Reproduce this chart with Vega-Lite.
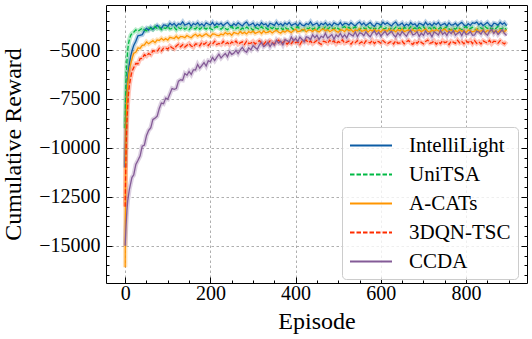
{
"$schema": "https://vega.github.io/schema/vega-lite/v6.json",
"width": 421, "height": 278,
"autosize": "none",
"padding": {"left": 106, "top": 5, "right": 5, "bottom": 56},
"background": "white",
"config": {
 "view": {"stroke": "black", "strokeWidth": 1},
 "axis": {"domain": false, "labelFont": "Liberation Serif", "labelFontSize": 20, "labelColor": "black", "titleFont": "Liberation Serif", "titleFontSize": 24, "titleFontWeight": "normal", "titleColor": "black", "tickColor": "black", "tickWidth": 1, "gridColor": "#9a9a9a", "gridDash": [2.5, 2.5], "gridWidth": 0.8, "labelOverlap": false, "labelFlush": false, "labelBound": false},
 "legend": {"orient": "none", "legendX": 236, "legendY": 122, "title": null,
   "symbolType": "M-1,0H3", "symbolSize": 441, "symbolStrokeWidth": 2, "symbolOpacity": 1,
   "labelFont": "Liberation Serif", "labelFontSize": 21, "labelColor": "black", "labelOffset": 37, "labelLimit": 0,
   "rowPadding": 7, "padding": 7, "fillColor": "rgba(255,255,255,0.8)", "strokeColor": "#cccccc", "cornerRadius": 4}
},
"data": {"values": [
{"e":0,"I":-11000,"U":-9000,"A":-16100,"D":-13000,"C":-15000},
{"e":1,"I":-9500,"U":-7500,"A":-11000,"D":-11500,"C":-14500},
{"e":2,"I":-8300,"U":-6500,"A":-9000,"D":-10300,"C":-14000},
{"e":3,"I":-7500,"U":-6000,"A":-8000,"D":-9400,"C":-13600},
{"e":4,"I":-7000,"U":-5600,"A":-7300,"D":-8700,"C":-13200},
{"e":6,"I":-6400,"U":-5000,"A":-6700,"D":-7800,"C":-12700},
{"e":8,"I":-6000,"U":-4650,"A":-6300,"D":-7200,"C":-12400},
{"e":10,"I":-5700,"U":-4450,"A":-6000,"D":-6800,"C":-12100},
{"e":13,"I":-5300,"U":-4250,"A":-5700,"D":-6400,"C":-11800},
{"e":16,"I":-5050,"U":-4150,"A":-5450,"D":-6100,"C":-11500},
{"e":20,"I":-4770,"U":-4094,"A":-5170,"D":-5900,"C":-11385},
{"e":25,"I":-4550,"U":-3972,"A":-5108,"D":-5690,"C":-10845},
{"e":30,"I":-4270,"U":-4046,"A":-4894,"D":-5700,"C":-10635},
{"e":35,"I":-4250,"U":-3967,"A":-4914,"D":-5440,"C":-10410},
{"e":40,"I":-4220,"U":-3888,"A":-4756,"D":-5430,"C":-9915},
{"e":45,"I":-4020,"U":-3977,"A":-4746,"D":-5240,"C":-9855},
{"e":50,"I":-3890,"U":-4018,"A":-4584,"D":-5310,"C":-9375},
{"e":55,"I":-3980,"U":-3880,"A":-4680,"D":-5180,"C":-9105},
{"e":60,"I":-3840,"U":-3894,"A":-4600,"D":-5240,"C":-8975},
{"e":65,"I":-3940,"U":-3948,"A":-4522,"D":-5040,"C":-8550},
{"e":70,"I":-3840,"U":-3810,"A":-4620,"D":-5060,"C":-8480},
{"e":75,"I":-3735,"U":-3898,"A":-4483,"D":-5075,"C":-8385},
{"e":80,"I":-3840,"U":-3834,"A":-4514,"D":-4910,"C":-7990},
{"e":85,"I":-3895,"U":-3954,"A":-4406,"D":-5045,"C":-7705},
{"e":90,"I":-3720,"U":-3866,"A":-4498,"D":-4900,"C":-7745},
{"e":95,"I":-3735,"U":-3906,"A":-4419,"D":-4895,"C":-7460},
{"e":100,"I":-3800,"U":-3794,"A":-4492,"D":-4950,"C":-7505},
{"e":105,"I":-3630,"U":-3930,"A":-4349,"D":-4802,"C":-7235},
{"e":110,"I":-3730,"U":-3890,"A":-4382,"D":-4885,"C":-6965},
{"e":115,"I":-3640,"U":-3842,"A":-4412,"D":-4940,"C":-7010},
{"e":120,"I":-3780,"U":-3970,"A":-4298,"D":-4795,"C":-6965},
{"e":125,"I":-3660,"U":-3858,"A":-4416,"D":-4710,"C":-6595},
{"e":130,"I":-3700,"U":-3914,"A":-4310,"D":-4835,"C":-6520},
{"e":135,"I":-3560,"U":-3826,"A":-4316,"D":-4732,"C":-6540},
{"e":140,"I":-3730,"U":-3938,"A":-4370,"D":-4850,"C":-6200},
{"e":145,"I":-3680,"U":-3874,"A":-4256,"D":-4760,"C":-6285},
{"e":150,"I":-3620,"U":-3962,"A":-4326,"D":-4670,"C":-6095},
{"e":155,"I":-3780,"U":-3834,"A":-4372,"D":-4792,"C":-6250},
{"e":160,"I":-3640,"U":-3882,"A":-4258,"D":-4854,"C":-6015},
{"e":165,"I":-3710,"U":-3922,"A":-4194,"D":-4686,"C":-6020},
{"e":170,"I":-3600,"U":-3818,"A":-4297,"D":-4708,"C":-5740},
{"e":175,"I":-3740,"U":-3946,"A":-4216,"D":-4780,"C":-5925},
{"e":180,"I":-3660,"U":-3850,"A":-4311,"D":-4612,"C":-5790},
{"e":185,"I":-3770,"U":-3866,"A":-4238,"D":-4714,"C":-5640},
{"e":190,"I":-3610,"U":-3930,"A":-4166,"D":-4626,"C":-5820},
{"e":195,"I":-3670,"U":-3826,"A":-4261,"D":-4768,"C":-5550},
{"e":200,"I":-3720,"U":-3906,"A":-4308,"D":-4650,"C":-5595},
{"e":205,"I":-3590,"U":-3962,"A":-4173,"D":-4696,"C":-5380},
{"e":210,"I":-3750,"U":-3858,"A":-4190,"D":-4552,"C":-5540},
{"e":215,"I":-3630,"U":-3802,"A":-4247,"D":-4718,"C":-5370},
{"e":220,"I":-3710,"U":-3866,"A":-4272,"D":-4664,"C":-5215},
{"e":225,"I":-3630,"U":-3938,"A":-4177,"D":-4720,"C":-5405},
{"e":230,"I":-3760,"U":-3834,"A":-4234,"D":-4556,"C":-5285},
{"e":235,"I":-3660,"U":-3898,"A":-4107,"D":-4692,"C":-5180},
{"e":240,"I":-3590,"U":-3962,"A":-4188,"D":-4618,"C":-5345},
{"e":245,"I":-3720,"U":-3858,"A":-4141,"D":-4724,"C":-5075},
{"e":250,"I":-3790,"U":-3802,"A":-4246,"D":-4580,"C":-5225},
{"e":255,"I":-3650,"U":-3930,"A":-4105,"D":-4657,"C":-5165},
{"e":260,"I":-3740,"U":-3906,"A":-4140,"D":-4544,"C":-5015},
{"e":265,"I":-3610,"U":-3842,"A":-4183,"D":-4701,"C":-5180},
{"e":270,"I":-3690,"U":-3970,"A":-4050,"D":-4638,"C":-5000},
{"e":275,"I":-3770,"U":-3882,"A":-4157,"D":-4585,"C":-4865},
{"e":280,"I":-3640,"U":-3946,"A":-4096,"D":-4712,"C":-5035},
{"e":285,"I":-3570,"U":-3826,"A":-4179,"D":-4549,"C":-5115},
{"e":290,"I":-3730,"U":-3914,"A":-4062,"D":-4666,"C":-4885},
{"e":295,"I":-3700,"U":-3874,"A":-4121,"D":-4643,"C":-4995},
{"e":300,"I":-3620,"U":-3986,"A":-4028,"D":-4560,"C":-4775},
{"e":305,"I":-3780,"U":-3850,"A":-4152,"D":-4689,"C":-4870},
{"e":310,"I":-3670,"U":-3890,"A":-4100,"D":-4588,"C":-4965},
{"e":315,"I":-3750,"U":-3938,"A":-4056,"D":-4517,"C":-4740},
{"e":320,"I":-3600,"U":-3810,"A":-4156,"D":-4646,"C":-4610},
{"e":325,"I":-3710,"U":-3922,"A":-4024,"D":-4715,"C":-4825},
{"e":330,"I":-3660,"U":-3866,"A":-4116,"D":-4574,"C":-4750},
{"e":335,"I":-3800,"U":-3954,"A":-4096,"D":-4663,"C":-4610},
{"e":340,"I":-3630,"U":-3842,"A":-4028,"D":-4532,"C":-4830},
{"e":345,"I":-3680,"U":-3906,"A":-4128,"D":-4611,"C":-4645},
{"e":350,"I":-3740,"U":-3818,"A":-4044,"D":-4690,"C":-4745},
{"e":355,"I":-3580,"U":-3946,"A":-3985,"D":-4560,"C":-4500},
{"e":360,"I":-3720,"U":-3898,"A":-4086,"D":-4490,"C":-4645},
{"e":365,"I":-3650,"U":-3858,"A":-4139,"D":-4650,"C":-4550},
{"e":370,"I":-3760,"U":-3962,"A":-4024,"D":-4620,"C":-4740},
{"e":375,"I":-3620,"U":-3834,"A":-4093,"D":-4540,"C":-4465},
{"e":380,"I":-3700,"U":-3930,"A":-3986,"D":-4700,"C":-4520},
{"e":385,"I":-3590,"U":-3914,"A":-4047,"D":-4590,"C":-4590},
{"e":390,"I":-3750,"U":-3850,"A":-4108,"D":-4670,"C":-4330},
{"e":395,"I":-3690,"U":-3954,"A":-4001,"D":-4520,"C":-4525},
{"e":400,"I":-3640,"U":-3874,"A":-3942,"D":-4630,"C":-4405},
{"e":405,"I":-3770,"U":-3818,"A":-4068,"D":-4580,"C":-4560},
{"e":410,"I":-3610,"U":-3922,"A":-4042,"D":-4720,"C":-4340},
{"e":415,"I":-3730,"U":-3978,"A":-3976,"D":-4550,"C":-4450},
{"e":420,"I":-3760,"U":-3970,"A":-3950,"D":-4560,"C":-4575},
{"e":425,"I":-3650,"U":-3858,"A":-4076,"D":-4490,"C":-4325},
{"e":430,"I":-3700,"U":-3914,"A":-3978,"D":-4630,"C":-4360},
{"e":435,"I":-3560,"U":-3826,"A":-3992,"D":-4540,"C":-4470},
{"e":440,"I":-3730,"U":-3938,"A":-4054,"D":-4670,"C":-4220},
{"e":445,"I":-3680,"U":-3874,"A":-3948,"D":-4590,"C":-4375},
{"e":450,"I":-3620,"U":-3962,"A":-4026,"D":-4510,"C":-4245},
{"e":455,"I":-3780,"U":-3834,"A":-4077,"D":-4640,"C":-4463},
{"e":460,"I":-3640,"U":-3882,"A":-3973,"D":-4710,"C":-4291},
{"e":465,"I":-3710,"U":-3922,"A":-3917,"D":-4550,"C":-4359},
{"e":470,"I":-3600,"U":-3818,"A":-4029,"D":-4580,"C":-4142},
{"e":475,"I":-3740,"U":-3946,"A":-3957,"D":-4660,"C":-4390},
{"e":480,"I":-3660,"U":-3850,"A":-4061,"D":-4500,"C":-4308},
{"e":485,"I":-3770,"U":-3866,"A":-3997,"D":-4610,"C":-4211},
{"e":490,"I":-3610,"U":-3930,"A":-3933,"D":-4530,"C":-4444},
{"e":495,"I":-3670,"U":-3826,"A":-4037,"D":-4680,"C":-4227},
{"e":500,"I":-3720,"U":-3906,"A":-4093,"D":-4570,"C":-4325},
{"e":505,"I":-3590,"U":-3962,"A":-3965,"D":-4620,"C":-4152},
{"e":510,"I":-3750,"U":-3858,"A":-3989,"D":-4480,"C":-4354},
{"e":515,"I":-3630,"U":-3802,"A":-4053,"D":-4650,"C":-4226},
{"e":520,"I":-3650,"U":-3914,"A":-3925,"D":-4600,"C":-4383},
{"e":525,"I":-3730,"U":-3842,"A":-4013,"D":-4540,"C":-4135},
{"e":530,"I":-3600,"U":-3946,"A":-3949,"D":-4700,"C":-4217},
{"e":535,"I":-3700,"U":-3882,"A":-4069,"D":-4560,"C":-4284},
{"e":540,"I":-3770,"U":-3818,"A":-3981,"D":-4630,"C":-4081},
{"e":545,"I":-3640,"U":-3922,"A":-4021,"D":-4520,"C":-4313},
{"e":550,"I":-3570,"U":-3978,"A":-3909,"D":-4660,"C":-4125},
{"e":555,"I":-3710,"U":-3850,"A":-4045,"D":-4580,"C":-4153},
{"e":560,"I":-3620,"U":-3874,"A":-4005,"D":-4690,"C":-4271},
{"e":565,"I":-3750,"U":-3938,"A":-3957,"D":-4530,"C":-4074},
{"e":570,"I":-3670,"U":-3810,"A":-4085,"D":-4590,"C":-4222},
{"e":575,"I":-3590,"U":-3898,"A":-3973,"D":-4640,"C":-4325},
{"e":580,"I":-3720,"U":-3834,"A":-4029,"D":-4510,"C":-4128},
{"e":585,"I":-3790,"U":-3954,"A":-3941,"D":-4670,"C":-4021},
{"e":590,"I":-3630,"U":-3866,"A":-4053,"D":-4550,"C":-4229},
{"e":595,"I":-3660,"U":-3906,"A":-3989,"D":-4570,"C":-4092},
{"e":600,"I":-3740,"U":-3794,"A":-4077,"D":-4650,"C":-4285},
{"e":605,"I":-3580,"U":-3930,"A":-3949,"D":-4520,"C":-4164},
{"e":610,"I":-3690,"U":-3890,"A":-3997,"D":-4620,"C":-4042},
{"e":615,"I":-3610,"U":-3842,"A":-4037,"D":-4690,"C":-4236},
{"e":620,"I":-3690,"U":-3970,"A":-3925,"D":-4610,"C":-4144},
{"e":625,"I":-3770,"U":-3882,"A":-4037,"D":-4560,"C":-4038},
{"e":630,"I":-3640,"U":-3946,"A":-3981,"D":-4690,"C":-4231},
{"e":635,"I":-3570,"U":-3826,"A":-4069,"D":-4530,"C":-4335},
{"e":640,"I":-3730,"U":-3914,"A":-3957,"D":-4650,"C":-4123},
{"e":645,"I":-3700,"U":-3874,"A":-4021,"D":-4630,"C":-4257},
{"e":650,"I":-3620,"U":-3986,"A":-3933,"D":-4550,"C":-4060},
{"e":655,"I":-3780,"U":-3850,"A":-4061,"D":-4680,"C":-4179},
{"e":660,"I":-3670,"U":-3890,"A":-4013,"D":-4580,"C":-4297},
{"e":665,"I":-3750,"U":-3938,"A":-3973,"D":-4510,"C":-4101},
{"e":670,"I":-3600,"U":-3810,"A":-4077,"D":-4640,"C":-3994},
{"e":675,"I":-3710,"U":-3922,"A":-3949,"D":-4710,"C":-4233},
{"e":680,"I":-3660,"U":-3866,"A":-4045,"D":-4570,"C":-4186},
{"e":685,"I":-3800,"U":-3954,"A":-4029,"D":-4660,"C":-4065},
{"e":690,"I":-3630,"U":-3842,"A":-3965,"D":-4530,"C":-4303},
{"e":695,"I":-3680,"U":-3906,"A":-4069,"D":-4610,"C":-4137},
{"e":700,"I":-3740,"U":-3818,"A":-3989,"D":-4690,"C":-4255},
{"e":705,"I":-3580,"U":-3946,"A":-3934,"D":-4560,"C":-4029},
{"e":710,"I":-3720,"U":-3898,"A":-4038,"D":-4490,"C":-4193},
{"e":715,"I":-3650,"U":-3858,"A":-4095,"D":-4650,"C":-4117},
{"e":720,"I":-3760,"U":-3962,"A":-3984,"D":-4620,"C":-4326},
{"e":725,"I":-3620,"U":-3834,"A":-4056,"D":-4540,"C":-4070},
{"e":730,"I":-3700,"U":-3930,"A":-3953,"D":-4700,"C":-4144},
{"e":735,"I":-3590,"U":-3914,"A":-4018,"D":-4590,"C":-4233},
{"e":740,"I":-3750,"U":-3850,"A":-4082,"D":-4670,"C":-3992},
{"e":745,"I":-3690,"U":-3954,"A":-3979,"D":-4520,"C":-4201},
{"e":750,"I":-3640,"U":-3874,"A":-3924,"D":-4630,"C":-4095},
{"e":755,"I":-3770,"U":-3818,"A":-4052,"D":-4580,"C":-4259},
{"e":760,"I":-3610,"U":-3922,"A":-4029,"D":-4720,"C":-4048},
{"e":765,"I":-3730,"U":-3978,"A":-3966,"D":-4550,"C":-4167},
{"e":770,"I":-3710,"U":-3866,"A":-4094,"D":-4600,"C":-4001},
{"e":775,"I":-3630,"U":-3938,"A":-4007,"D":-4660,"C":-4240},
{"e":780,"I":-3760,"U":-3834,"A":-4072,"D":-4500,"C":-4149},
{"e":785,"I":-3660,"U":-3898,"A":-3952,"D":-4640,"C":-4073},
{"e":790,"I":-3590,"U":-3962,"A":-4041,"D":-4570,"C":-4267},
{"e":795,"I":-3720,"U":-3858,"A":-4002,"D":-4680,"C":-4026},
{"e":800,"I":-3790,"U":-3802,"A":-4114,"D":-4540,"C":-4205},
{"e":805,"I":-3650,"U":-3930,"A":-3979,"D":-4620,"C":-4173},
{"e":810,"I":-3740,"U":-3906,"A":-4020,"D":-4510,"C":-4051},
{"e":815,"I":-3610,"U":-3842,"A":-4069,"D":-4670,"C":-4244},
{"e":820,"I":-3640,"U":-3922,"A":-4038,"D":-4520,"C":-4227},
{"e":825,"I":-3570,"U":-3978,"A":-3927,"D":-4660,"C":-4045},
{"e":830,"I":-3710,"U":-3850,"A":-4064,"D":-4580,"C":-4073},
{"e":835,"I":-3620,"U":-3874,"A":-4025,"D":-4690,"C":-4191},
{"e":840,"I":-3750,"U":-3938,"A":-3978,"D":-4530,"C":-3994},
{"e":845,"I":-3670,"U":-3810,"A":-4107,"D":-4590,"C":-4142},
{"e":850,"I":-3590,"U":-3898,"A":-3996,"D":-4640,"C":-4245},
{"e":855,"I":-3720,"U":-3834,"A":-4052,"D":-4510,"C":-4048},
{"e":860,"I":-3790,"U":-3954,"A":-3965,"D":-4670,"C":-3941},
{"e":865,"I":-3630,"U":-3866,"A":-4077,"D":-4550,"C":-4149},
{"e":870,"I":-3660,"U":-3906,"A":-4014,"D":-4570,"C":-4012},
{"e":875,"I":-3740,"U":-3794,"A":-4102,"D":-4650,"C":-4205},
{"e":880,"I":-3580,"U":-3930,"A":-3974,"D":-4520,"C":-4083},
{"e":885,"I":-3690,"U":-3890,"A":-4022,"D":-4620,"C":-3961},
{"e":890,"I":-3610,"U":-3842,"A":-4062,"D":-4690,"C":-4154},
{"e":895,"I":-3760,"U":-3970,"A":-3958,"D":-4560,"C":-4257}
]},
"transform": [
 {"fold": ["I", "U", "A", "D", "C"], "as": ["k", "v"]},
 {"lookup": "k", "from": {"data": {"values": [
   {"k": "I", "name": "IntelliLight"}, {"k": "U", "name": "UniTSA"}, {"k": "A", "name": "A-CATs"}, {"k": "D", "name": "3DQN-TSC"}, {"k": "C", "name": "CCDA"}]}, "key": "k", "fields": ["name"]}}
],
"layer": [
 {
  "mark": {"type": "line", "strokeWidth": 4.5, "opacity": 0.28},
  "encoding": {
   "x": {"field": "e", "type": "quantitative", "scale": {"domain": [-45, 943], "nice": false, "zero": false},
     "axis": {"orient": "top", "labels": false, "title": null, "grid": false,
       "values": [0,50,100,150,200,250,300,350,400,450,500,550,600,650,700,750,800,850,900],
       "tickSize": {"condition": {"test": "datum.value % 200 === 0", "value": -6}, "value": -3}}},
   "y": {"field": "v", "type": "quantitative", "scale": {"domain": [-16900, -2700], "nice": false, "zero": false},
     "axis": {"orient": "right", "labels": false, "title": null, "grid": false,
       "values": [-16500,-16000,-15500,-15000,-14500,-14000,-13500,-13000,-12500,-12000,-11500,-11000,-10500,-10000,-9500,-9000,-8500,-8000,-7500,-7000,-6500,-6000,-5500,-5000,-4500,-4000,-3500,-3000],
       "tickSize": {"condition": {"test": "datum.value % 2500 === 0", "value": -6}, "value": -3}}},
   "color": {"field": "name", "type": "nominal",
     "scale": {"domain": ["IntelliLight", "UniTSA", "A-CATs", "3DQN-TSC", "CCDA"], "range": ["#0C5DA5", "#00B945", "#FF9500", "#FF2C00", "#845B97"]}}
  }
 },
 {
  "mark": {"type": "line", "strokeWidth": 1.3},
  "encoding": {
   "x": {"field": "e", "type": "quantitative",
     "axis": {"orient": "bottom", "title": "Episode", "grid": true, "format": "d",
       "values": [0,50,100,150,200,250,300,350,400,450,500,550,600,650,700,750,800,850,900],
       "labelExpr": "datum.value % 200 === 0 ? datum.label : ''",
       "tickSize": {"condition": {"test": "datum.value % 200 === 0", "value": -6}, "value": -3},
       "gridOpacity": {"condition": {"test": "datum.value % 200 === 0", "value": 1}, "value": 0},
       "labelPadding": 6, "titlePadding": 3}},
   "y": {"field": "v", "type": "quantitative",
     "axis": {"orient": "left", "title": "Cumulative Reward", "grid": true, "format": "d",
       "values": [-16500,-16000,-15500,-15000,-14500,-14000,-13500,-13000,-12500,-12000,-11500,-11000,-10500,-10000,-9500,-9000,-8500,-8000,-7500,-7000,-6500,-6000,-5500,-5000,-4500,-4000,-3500,-3000],
       "labelExpr": "datum.value % 2500 === 0 ? datum.label : ''",
       "tickSize": {"condition": {"test": "datum.value % 2500 === 0", "value": -6}, "value": -3},
       "gridOpacity": {"condition": {"test": "datum.value % 2500 === 0", "value": 1}, "value": 0},
       "labelPadding": 12, "titlePadding": 13}},
   "color": {"field": "name", "type": "nominal"},
   "strokeDash": {"field": "name", "type": "nominal",
     "scale": {"domain": ["IntelliLight", "UniTSA", "A-CATs", "3DQN-TSC", "CCDA"], "range": [[1, 0], [4.5, 2], [1, 0], [4.5, 2], [1, 0]]}}
  }
 }
],
"resolve": {"axis": {"x": "independent", "y": "independent"}}
}
